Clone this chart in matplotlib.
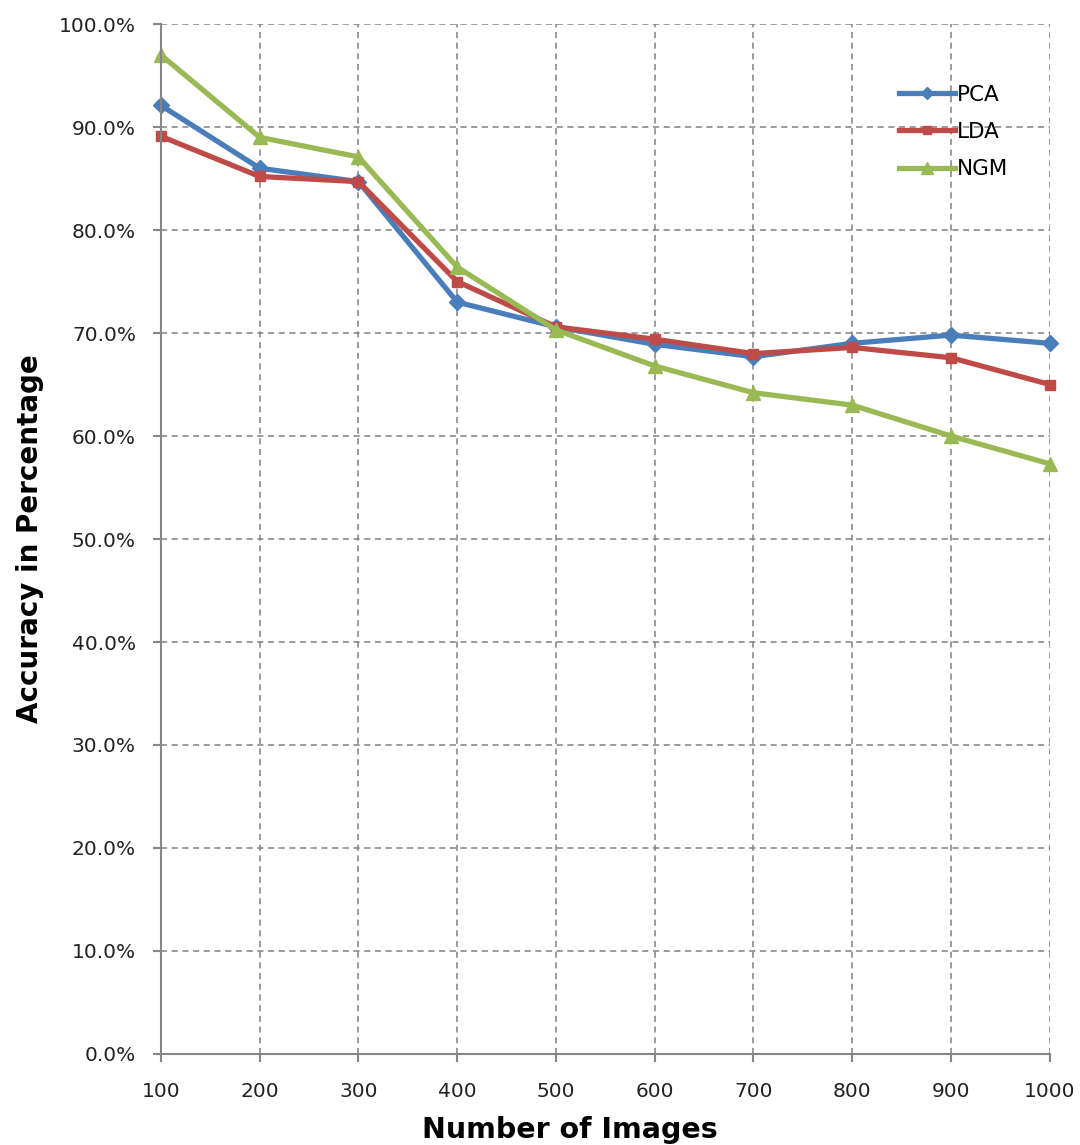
import numpy as np
import matplotlib.pyplot as plt
from matplotlib.ticker import FuncFormatter

images = [100, 200, 300, 400, 500, 600, 700, 800, 900, 1000]
pca = [92.1, 86.0, 84.7, 73.0, 70.6, 68.9, 67.7, 69.0, 69.8, 69.0]
lda = [89.1, 85.2, 84.7, 75.0, 70.6, 69.4, 68.0, 68.6, 67.6, 65.0]
ngm = [97.0, 89.0, 87.1, 76.4, 70.3, 66.8, 64.2, 63.0, 60.0, 57.3]

plt.rcParams['font.family'] = ['DejaVu Sans']

fig = plt.figure(figsize=(10.8, 11.45), dpi=100)
ax = fig.add_axes([0.149, 0.0795, 0.823, 0.8995])

ax.plot(images, pca, color='#4A7EBB', lw=3.8, marker='D', ms=8, label='PCA')
ax.plot(images, lda, color='#BE4B48', lw=3.8, marker='s', ms=7, label='LDA')
ax.plot(images, ngm, color='#98B954', lw=3.8, marker='^', ms=10, label='NGM')

ax.set_xlim(100, 1000)
ax.set_ylim(0, 100)
ax.set_xticks(images)
ax.set_yticks(np.arange(0, 101, 10))
ax.yaxis.set_major_formatter(FuncFormatter(lambda v, p: f'{v:.1f}%'))
ax.grid(True, color='#808080', ls=(0, (4, 3)), lw=1.1)
ax.set_axisbelow(True)
for line in ax.lines:
    line.set_clip_on(False)

for s in ['top', 'right']:
    ax.spines[s].set_visible(False)
for s in ['left', 'bottom']:
    ax.spines[s].set_color('#868686')
    ax.spines[s].set_linewidth(1.5)
ax.tick_params(axis='both', colors='#868686', labelcolor='#222222', labelsize=14.5, width=1.5, length=6)
ax.tick_params(axis='y', pad=12)
ax.tick_params(axis='x', pad=14)

ax.set_xlabel('Number of Images', fontsize=20.5, fontweight='bold')
ax.set_ylabel('Accuracy in Percentage', fontsize=20, fontweight='bold')
ax.xaxis.set_label_coords(0.46, -0.06)
ax.yaxis.set_label_coords(-0.131, 0.5)

ax.legend(loc='upper right', bbox_to_anchor=(0.975, 0.96), frameon=False, fontsize=15.5,
          handlelength=2.6, labelspacing=0.8, handletextpad=0.1, markerscale=0.8)

fig.savefig('out.png', dpi=100)
